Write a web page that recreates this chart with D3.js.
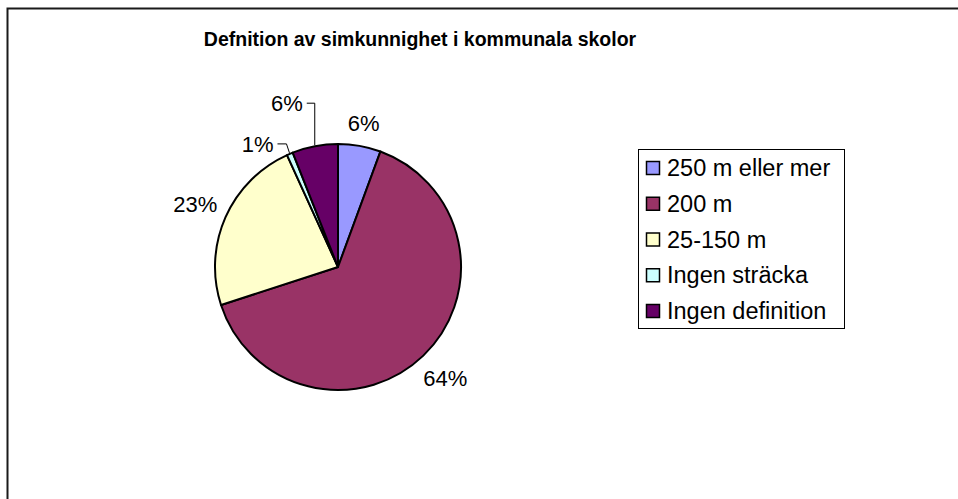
<!DOCTYPE html>
<html>
<head>
<meta charset="utf-8">
<script src="https://cdn.jsdelivr.net/npm/d3@7"></script>
<style>
  html, body { margin: 0; padding: 0; background: #fff; }
  svg { display: block; font-family: "Liberation Sans", Arial, sans-serif; }
</style>
</head>
<body>
<svg id="chart" width="958" height="499"></svg>
<script>
// ---- data ----
const title = "Defnition av simkunnighet i kommunala skolor";
const categories = ["250 m eller mer", "200 m", "25-150 m", "Ingen sträcka", "Ingen definition"];
const values = [5.6, 64.4, 23.2, 0.8, 6.0];
const colors = ["#9999FF", "#993366", "#FFFFCC", "#CCFFFF", "#660066"];

// ---- layout ----
const W = 958, H = 499;
const cx = 338, cy = 267, r = 123;
// leader-line layout for the small slices (offsets, not data)
const leaders = [null, null, null, {dx: -3, dy: -9, h: -9}, {dx: 0, dy: -42, h: -8}];

const svg = d3.select("#chart");
svg.append("rect").attr("width", W).attr("height", H).attr("fill", "#fff");
// outer chart border (extends beyond the window on right/bottom)
svg.append("rect")
  .attr("x", 7.5).attr("y", 8.5).attr("width", W + 20).attr("height", H + 20)
  .attr("fill", "none").attr("stroke", "#1a1a1a").attr("stroke-width", 2);

svg.append("text")
  .attr("x", 420).attr("y", 46)
  .attr("text-anchor", "middle")
  .attr("font-weight", "bold")
  .attr("font-size", 19.5)
  .text(title);

const pie = d3.pie().sort(null).value(d => d).startAngle(0).endAngle(2 * Math.PI);
const arcs = pie(values);
const arc = d3.arc().innerRadius(0).outerRadius(r);

const g = svg.append("g").attr("transform", `translate(${cx},${cy})`);
g.selectAll("path.slice").data(arcs).enter().append("path")
  .attr("class", "slice")
  .attr("d", arc)
  .attr("fill", (d, i) => colors[i])
  .attr("stroke", "#000")
  .attr("stroke-width", 2)
  .attr("stroke-linejoin", "round");

const fmt = v => Math.round(v) + "%";
const labelSize = 22;
arcs.forEach((d, i) => {
  const a = (d.startAngle + d.endAngle) / 2;
  const s = Math.sin(a), c = -Math.cos(a);
  const label = fmt(d.value);
  const L = leaders[i];
  if (L) {
    const px = s * (r + 1), py = c * (r + 1);
    const qx = px + L.dx, qy = py + L.dy;
    g.append("path")
      .attr("d", `M${px},${py}L${qx},${qy}L${qx + L.h},${qy}`)
      .attr("fill", "none").attr("stroke", "#000").attr("stroke-width", 1);
    g.append("text")
      .attr("x", qx + L.h - 4).attr("y", qy)
      .attr("dy", "0.35em")
      .attr("text-anchor", "end")
      .attr("font-size", labelSize)
      .text(label);
  } else {
    const w = label.length * labelSize * 0.55, h = labelSize * 0.75;
    const R = r + 13 + Math.abs(s) * w / 2 + Math.abs(c) * h / 2;
    g.append("text")
      .attr("x", s * R).attr("y", c * R)
      .attr("dy", "0.35em")
      .attr("text-anchor", "middle")
      .attr("font-size", labelSize)
      .text(label);
  }
});

// ---- legend ----
const lg = svg.append("g").attr("transform", "translate(638,149)");
lg.append("rect").attr("x", 0.5).attr("y", 0.5).attr("width", 206).attr("height", 179)
  .attr("fill", "#fff").attr("stroke", "#000").attr("stroke-width", 1);
const rowY = d3.scalePoint().domain(categories).range([19, 162]);
const rows = lg.selectAll("g.row").data(categories).enter().append("g")
  .attr("transform", d => `translate(0,${rowY(d)})`);
rows.append("rect")
  .attr("x", 8.5).attr("y", -6.5).attr("width", 13).attr("height", 13)
  .attr("fill", (d, i) => colors[i]).attr("stroke", "#000").attr("stroke-width", 1.5);
rows.append("text")
  .attr("x", 29).attr("y", 0).attr("dy", "0.35em")
  .attr("font-size", 23.5)
  .text(d => d);
</script>
</body>
</html>
